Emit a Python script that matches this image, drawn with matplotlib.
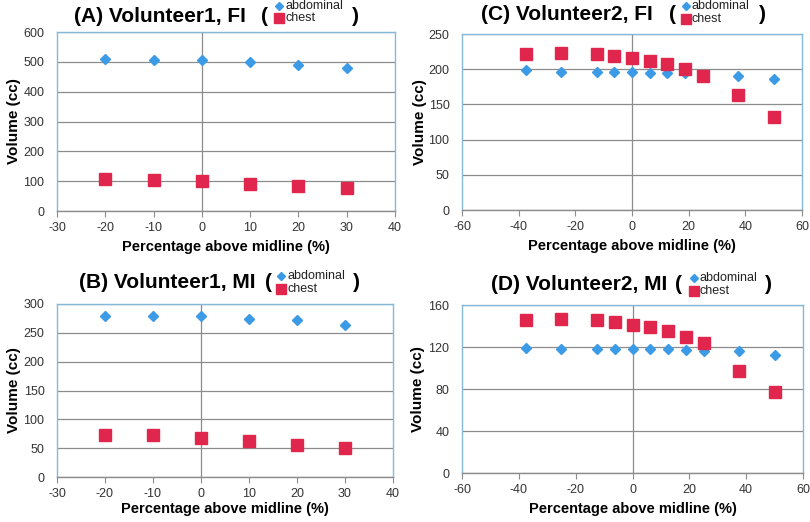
import matplotlib
matplotlib.use("Agg")
import matplotlib.pyplot as plt
from matplotlib.lines import Line2D

plt.rcParams['font.family'] = ['Liberation Sans', 'DejaVu Sans']
plt.rcParams['axes.unicode_minus'] = False

# ---- data ----
x_v1 = [-20, -10, 0, 10, 20, 30]
a_abd = [508, 505, 505, 498, 491, 480]
a_chest = [107, 103, 99, 91, 85, 76]
b_abd = [280, 280, 280, 274, 272, 263]
b_chest = [72, 72, 68, 63, 56, 51]

x_v2 = [-37.5, -25, -12.5, -6.25, 0, 6.25, 12.5, 18.75, 25, 37.5, 50]
c_abd = [199, 196, 196, 196, 196, 195, 195, 194, 192, 190, 186]
c_chest = [222, 223, 222, 219, 216, 212, 207, 200, 191, 163, 132]
d_abd = [119, 118, 118, 118, 118, 118, 118, 117.5, 116.5, 116, 112]
d_chest = [146, 146.5, 146, 144, 141, 139, 135, 130, 124, 97, 77]

titles = ["(A) Volunteer1, FI", "(C) Volunteer2, FI", "(B) Volunteer1, MI", "(D) Volunteer2, MI"]
series_names = ["abdominal", "chest"]
ylabel = "Volume (cc)"
xlabel = "Percentage above midline (%)"

BLUE = '#3C9BE6'
RED = '#E0264C'
FRAME = '#86B8DC'
GRID = '#8C8C8C'

W, H = 810, 522
fig = plt.figure(figsize=(W / 100, H / 100), dpi=100)

def fx(px):
    return px / W

def fy(py):
    return 1 - py / H

def ax_at(x0, y0, x1, y1):
    return fig.add_axes([x0 / W, 1 - y1 / H, (x1 - x0) / W, (y1 - y0) / H])

panels = [
    dict(box=(57, 32, 395, 211), x=x_v1, abd=a_abd, chest=a_chest, xlim=(-30, 40), xt=range(-30, 41, 10),
         ylim=(0, 600), yt=range(0, 601, 100), title=titles[0],
         tpos=(160, 16), lp=(265, 355), mk=279, ty=(6, 18), ylx=14, xly=247),
    dict(box=(462, 34, 802, 210), x=x_v2, abd=c_abd, chest=c_chest, xlim=(-60, 60), xt=range(-60, 61, 20),
         ylim=(0, 250), yt=range(0, 251, 50), title=titles[1],
         tpos=(567, 14), lp=(672, 762), mk=686, ty=(6, 19), ylx=420, xly=246),
    dict(box=(57, 304, 393, 477), x=x_v1, abd=b_abd, chest=b_chest, xlim=(-30, 40), xt=range(-30, 41, 10),
         ylim=(0, 300), yt=range(0, 301, 50), title=titles[2],
         tpos=(167, 283), lp=(268, 356), mk=281, ty=(276, 289), ylx=14, xly=509),
    dict(box=(462, 305, 803, 473), x=x_v2, abd=d_abd, chest=d_chest, xlim=(-60, 60), xt=range(-60, 61, 20),
         ylim=(0, 160), yt=range(0, 161, 40), title=titles[3],
         tpos=(579, 285), lp=(678, 768), mk=694, ty=(278, 291), ylx=418, xly=509),
]

for p in panels:
    x0, y0, x1, y1 = p['box']
    ax = ax_at(x0, y0, x1, y1)
    ax.set_xlim(*p['xlim'])
    ax.set_ylim(*p['ylim'])
    ax.set_xticks(list(p['xt']))
    ax.set_yticks(list(p['yt']))
    ax.grid(axis='y', color=GRID, linewidth=0.9)
    ax.set_axisbelow(True)
    ax.axvline(0, color=GRID, linewidth=0.9, zorder=1)
    for s in ['left', 'top', 'right']:
        ax.spines[s].set_color(FRAME)
        ax.spines[s].set_linewidth(1.0)
    ax.spines['bottom'].set_color(GRID)
    ax.spines['bottom'].set_linewidth(1.0)
    ax.tick_params(axis='y', length=0, labelsize=9, colors='#333333', pad=9)
    ax.tick_params(axis='x', length=4, direction='out', color=GRID, labelsize=9, labelcolor='#333333', pad=4)
    ax.plot(p['x'], p['abd'], linestyle='none', marker='D', markersize=5.5, color=BLUE, zorder=3)
    ax.plot(p['x'], p['chest'], linestyle='none', marker='s', markersize=8, color=RED, zorder=4)

    fig.text(fx(p['ylx']), fy((y0 + y1) / 2), ylabel, rotation=90, fontsize=11, fontweight='bold',
             ha='center', va='center')
    fig.text(fx((x0 + x1) / 2), fy(p['xly']), xlabel, fontsize=10.5, fontweight='bold',
             ha='center', va='center')

    # title pieces
    tx, tyc = p['tpos']
    fig.text(fx(tx), fy(tyc), p['title'], fontsize=15, fontweight='bold', ha='center', va='center')
    lx, rx = p['lp']
    fig.text(fx(lx), fy(tyc), "(", fontsize=15, fontweight='bold', ha='center', va='center')
    fig.text(fx(rx), fy(tyc), ")", fontsize=15, fontweight='bold', ha='center', va='center')
    ya, yc = p['ty']
    fig.add_artist(Line2D([fx(p['mk'])], [fy(ya)], marker='D', markersize=4.5, color=BLUE, linestyle='none'))
    fig.add_artist(Line2D([fx(p['mk'])], [fy(yc)], marker='s', markersize=6.5, color=RED, linestyle='none'))
    fig.text(fx(p['mk'] + 6), fy(ya), series_names[0], fontsize=9, ha='left', va='center', color='#222222')
    fig.text(fx(p['mk'] + 6), fy(yc), series_names[1], fontsize=9, ha='left', va='center', color='#222222')

fig.savefig("out.png", dpi=100)
